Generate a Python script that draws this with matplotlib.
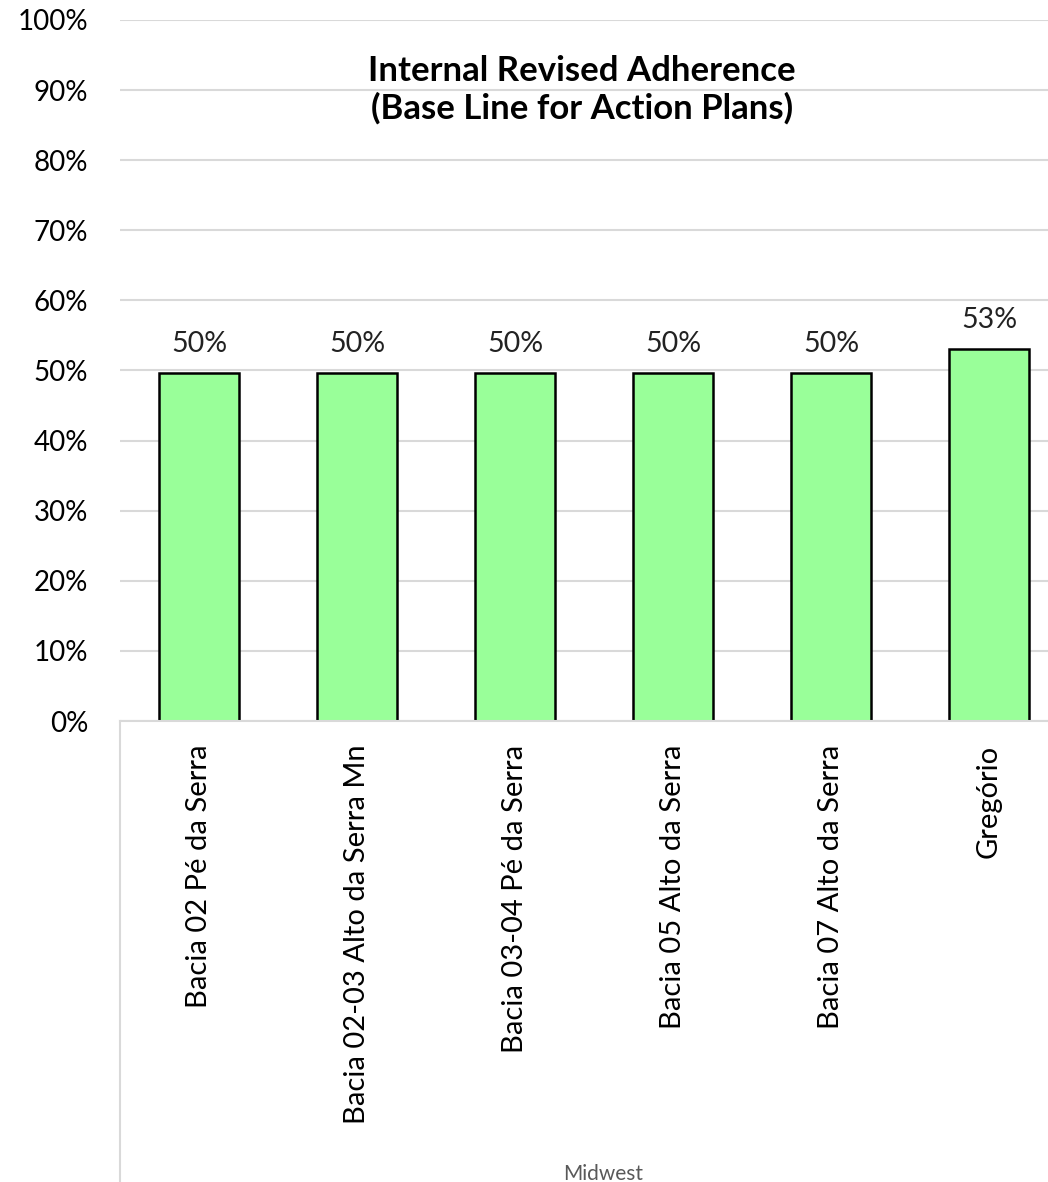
import matplotlib.pyplot as plt
from matplotlib.lines import Line2D
from matplotlib.ticker import PercentFormatter

categories = ["Bacia 02 Pé da Serra", "Bacia 02-03 Alto da Serra Mn",
              "Bacia 03-04 Pé da Serra", "Bacia 05 Alto da Serra",
              "Bacia 07 Alto da Serra", "Gregório"]
values = [0.497, 0.497, 0.497, 0.497, 0.497, 0.531]
labels = ["50%", "50%", "50%", "50%", "50%", "53%"]
group = "Midwest"
title = "Internal Revised Adherence\n(Base Line for Action Plans)"

plt.rcParams['font.family'] = ['Lato', 'DejaVu Sans']

W, H = 1048, 1182
fig = plt.figure(figsize=(W / 100, H / 100), dpi=100)
# plot area runs past the right edge of the picture, as in the reference
ax = fig.add_axes([120 / W, (H - 721) / H, 948 / W, 701 / H])

x = range(len(categories))
bars = ax.bar(x, values, width=0.505, color='#99ff99', edgecolor='black',
              linewidth=1.8, zorder=3)
ax.bar_label(bars, labels=labels, padding=11, fontsize=20.5, color='#222222')

ax.set_xlim(-0.5, len(categories) - 0.5)
ax.set_ylim(0, 1)
ax.set_yticks([i / 10 for i in range(11)])
ax.yaxis.set_major_formatter(PercentFormatter(1.0, decimals=0))
ax.set_xticks(list(x))
ax.set_xticklabels(categories, rotation=90, va='top', ha='center')
ax.tick_params(axis='x', length=0, pad=17, labelsize=21, colors='black')
ax.tick_params(axis='y', length=0, pad=23, labelsize=20, colors='black')
ax.grid(axis='y', color='#d9d9d9', linewidth=1.5, zorder=0)
for s in ['top', 'right', 'left']:
    ax.spines[s].set_visible(False)
ax.spines['bottom'].set_color('#d9d9d9')
ax.spines['bottom'].set_linewidth(1.5)
ax.spines['bottom'].set_zorder(4)

# group axis line below the categories
fig.add_artist(Line2D([120 / W, 120 / W], [0, (H - 721) / H],
                      color='#d9d9d9', linewidth=1.5))
fig.text(603 / W, 1 - 1164 / H, group, ha='center', va='top',
         fontsize=15, color='#595959')

fig.text(582 / W, 1 - 55 / H, title, ha='center', va='top',
         fontsize=25, fontweight='bold', linespacing=1.2)

fig.savefig('out.png', dpi=100)
